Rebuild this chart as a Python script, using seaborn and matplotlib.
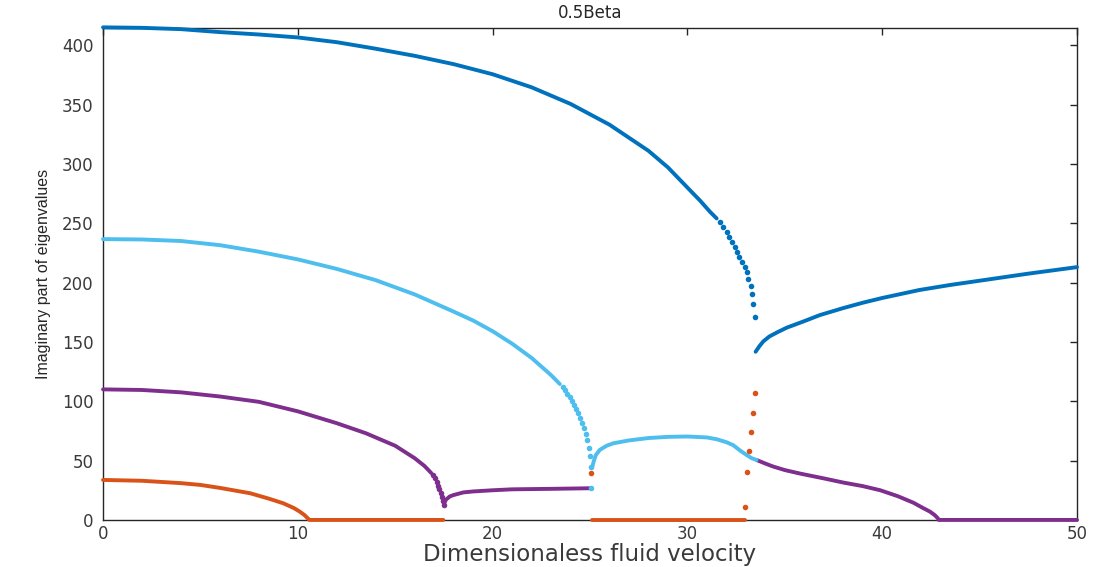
import matplotlib
matplotlib.use("Agg")
import matplotlib.pyplot as plt
import seaborn as sns
import pandas as pd

# ---------------- data ----------------
# Blue (#0072BD) - upper branch (dense) and its sparse tail
blue1_x = [0.0, 2, 4, 6, 8, 10, 12, 14, 16, 18, 20, 22, 24, 26, 28, 29, 30, 30.65, 31.16, 31.5]
blue1_y = [415, 414.6, 413.5, 411, 409, 406.5, 402.5, 397, 391, 384, 375.5, 364.5, 350.5, 333,
           311, 297, 280, 269, 259.6, 254]
blue1_dots_x = [31.67, 31.84, 32.02, 32.15, 32.31, 32.44, 32.56, 32.67, 32.82, 32.96,
                33.04, 33.13, 33.25, 33.30, 33.38, 33.47]
blue1_dots_y = [251.2, 247.0, 242.8, 238.6, 234.4, 230.2, 226.0, 221.7, 217.5, 213.3,
                208.6, 202.9, 197.1, 190.3, 181.9, 171.2]
blue2_x = [33.5, 33.7, 33.9, 34.2, 34.6, 35.1, 36, 36.8, 38, 39, 40, 41.9, 43.5, 45.4, 47.5, 50.0]
blue2_y = [141.7, 146.5, 150.5, 154.5, 158, 162, 167.5, 172.6, 178.5, 183, 187, 193.7, 198,
           202.5, 207.5, 213]

# Cyan (#4DBEEE)
cyan1_x = [0.0, 2, 4, 6, 8, 10, 12, 14, 16, 18, 19, 20, 21, 22, 23, 23.45]
cyan1_y = [236.6, 236.3, 235, 231.5, 226, 219.5, 211.5, 202, 190, 175.5, 168, 159, 148.5,
           136.5, 122, 114.5]
cyan1_dots_x = [23.6, 23.72, 23.84, 23.96, 24.07, 24.18, 24.29, 24.4, 24.5, 24.6, 24.7,
                24.79, 24.87, 24.94, 25.0, 25.05, 25.05]
cyan1_dots_y = [112, 109.3, 106.5, 103.5, 100.3, 97, 93.5, 89.8, 86, 82, 77.5,
                72.5, 67, 61, 54, 44.4, 26.5]
cyan2_x = [25.12, 25.2, 25.3, 25.5, 25.85, 26.2, 27, 28, 29, 30, 31, 31.5, 32, 32.35, 32.7,
           33.04, 33.3, 33.55]
cyan2_y = [45, 50, 54.7, 59, 62.5, 64.6, 67, 69, 70, 70.3, 69.5, 68, 65.5, 63, 58.5,
           54.7, 52, 50.5]

# Purple (#7E2F8E)
purple1_x = [0.0, 2, 4, 6, 8, 10, 12, 13.5, 15, 16, 16.5, 16.85]
purple1_y = [110, 109.5, 107.5, 104, 99.5, 91.5, 81.5, 73, 62.5, 52, 45.5, 39.5]
purple1_dots_x = [16.95, 17.04, 17.13, 17.2, 17.27, 17.33, 17.39, 17.44, 17.48]
purple1_dots_y = [37.5, 35, 32, 29, 25.8, 22.5, 19, 15.8, 12.6]
purple2_x = [17.53, 17.6, 17.8, 18.0, 18.5, 19, 20, 21, 23, 25.0]
purple2_y = [14.5, 17, 19.8, 21, 23.2, 24, 25, 25.8, 26.2, 26.7]
purple3_x = [33.55, 34, 34.4, 35, 35.8, 37, 38, 39, 39.9, 40.8, 41.6, 42.1, 42.45, 42.7,
             42.85, 42.9, 50.0]
purple3_y = [50.5, 47.5, 45, 42, 39, 35, 31.5, 28.5, 25, 20, 14.5, 10, 7, 4, 1.5, 0, 0]

# Orange (#D95319)
orange1_x = [0.0, 2, 4, 5, 6, 7.55, 8.5, 9.26, 9.8, 10.1, 10.35, 10.5, 10.6, 17.47]
orange1_y = [33.7, 33, 31, 29.5, 27, 22.5, 18, 14, 10, 7, 4, 1.5, 0, 0]
orange2_x = [25.08, 32.96]
orange2_y = [0, 0]
orange_dots_x = [25.03, 32.96, 33.04, 33.18, 33.27, 33.38, 33.47]
orange_dots_y = [39.5, 11, 40, 58, 74, 90, 107]

x_ticks = [0, 10, 20, 30, 40, 50]
y_ticks = [0, 50, 100, 150, 200, 250, 300, 350, 400]
title = "0.5Beta"
x_label = "Dimensionaless fluid velocity"
y_label = "Imaginary part of eigenvalues"

C_BLUE = "#0072BD"
C_CYAN = "#4DBEEE"
C_PURPLE = "#7E2F8E"
C_ORANGE = "#D95319"
AX_COL = "#262626"

# ---------------- figure ----------------
sns.set_style("white")
plt.rcParams["font.family"] = ["DejaVu Sans"]

fig = plt.figure(figsize=(10.96, 5.67), dpi=100)
ax = fig.add_axes([0.094, 0.083, 0.8887, 0.8677])

LW = 2.8
MS = 16

lines = [
    (orange1_x, orange1_y, C_ORANGE),
    (orange2_x, orange2_y, C_ORANGE),
    (purple1_x, purple1_y, C_PURPLE),
    (purple2_x, purple2_y, C_PURPLE),
    (purple3_x, purple3_y, C_PURPLE),
    (cyan1_x, cyan1_y, C_CYAN),
    (cyan2_x, cyan2_y, C_CYAN),
    (blue1_x, blue1_y, C_BLUE),
    (blue2_x, blue2_y, C_BLUE),
]
for xs, ys, c in lines:
    df = pd.DataFrame({"x": xs, "y": ys})
    sns.lineplot(data=df, x="x", y="y", color=c, lw=LW, sort=False,
                 estimator=None, ax=ax, solid_capstyle="round",
                 solid_joinstyle="round", clip_on=False, zorder=3)

dots = [
    (orange_dots_x, orange_dots_y, C_ORANGE),
    (purple1_dots_x, purple1_dots_y, C_PURPLE),
    (cyan1_dots_x, cyan1_dots_y, C_CYAN),
    (blue1_dots_x, blue1_dots_y, C_BLUE),
]
for xs, ys, c in dots:
    df = pd.DataFrame({"x": xs, "y": ys})
    sns.scatterplot(data=df, x="x", y="y", color=c, s=MS, linewidth=0, ax=ax,
                    clip_on=False, zorder=3)

ax.set_xlim(0, 50)
ax.set_ylim(0, 414.5)
ax.set_xticks(x_ticks)
ax.set_yticks(y_ticks)
ax.set_xticklabels([str(v) for v in x_ticks])
ax.set_yticklabels([str(v) for v in y_ticks])

for s in ax.spines.values():
    s.set_visible(True)
    s.set_color(AX_COL)
    s.set_linewidth(1.0)
    s.set_zorder(2)

ax.tick_params(axis="both", direction="in", length=5, width=1.0, color=AX_COL,
               labelcolor="#3a3a3a", labelsize=12, top=True, right=True)
ax.tick_params(axis="y", pad=7)
ax.tick_params(axis="x", pad=4)

ax.set_title(title, fontsize=12, color="#262626", pad=7)
ax.set_xlabel(x_label, fontsize=16.5, color="#3a3a3a", labelpad=0)
ax.set_ylabel(y_label, fontsize=11.5, color="#262626", labelpad=8,
              family=["Liberation Sans", "DejaVu Sans"])

fig.savefig("out.png", dpi=100)
